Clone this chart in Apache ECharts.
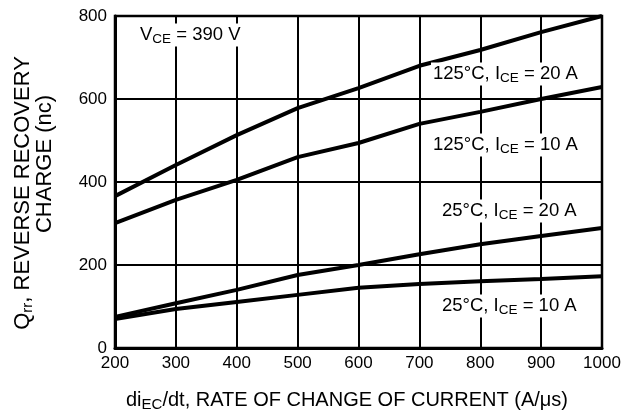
<!DOCTYPE html>
<html><head><meta charset="utf-8">
<script src="https://cdn.jsdelivr.net/npm/echarts@6/dist/echarts.min.js"></script>
<style>html,body{margin:0;padding:0;background:#fff}#c{width:635px;height:415px}</style>
</head><body><div id="c"></div>
<script>
const xValues = [200, 300, 400, 500, 600, 700, 800, 900, 1000];
const q125_20 = [366, 441, 513, 578, 626, 680, 718, 761, 800];
const q125_10 = [301, 357, 405, 460, 494, 540, 569, 600, 629];
const q25_20 = [75, 108, 140, 176, 200, 226, 250, 270, 289];
const q25_10 = [70, 94, 111, 128, 145, 154, 161, 166, 173];
const xTicks = [200, 300, 400, 500, 600, 700, 800, 900, 1000];
const yTicks = [0, 200, 400, 600, 800];

const FONT = 'Liberation Sans, Arial, sans-serif';
const pairs = a => xValues.map((x, i) => [x, a[i]]);
const lineSeries = (name, arr) => ({
  name, type: 'line', data: pairs(arr), showSymbol: false, symbol: 'none',
  lineStyle: { color: '#000', width: 4 }, z: 5, animation: false
});
const mkRich = (n, s, pad) => ({
  n: { fontSize: n, fontFamily: FONT, color: '#000' },
  s: { fontSize: s, fontFamily: FONT, color: '#000', padding: [pad, 0, 0, 0] }
});
const label = (x, y, parts) => ({
  type: 'text', x, y, z: 10,
  style: {
    text: parts, rich: mkRich(18.5, 13.5, 9), align: 'left', verticalAlign: 'middle',
    backgroundColor: '#fff', padding: [0, 2, 0, 2]
  }
});

const chart = echarts.init(document.getElementById('c'), null, { renderer: 'canvas' });
chart.setOption({
  animation: false,
  backgroundColor: '#fff',
  grid: { left: 115, right: 33, top: 16, bottom: 67, show: true, borderColor: '#000', borderWidth: 2.5 },
  xAxis: {
    type: 'value', min: 200, max: 1000, interval: 100,
    axisLine: { show: true, lineStyle: { color: '#000', width: 3 } },
    axisTick: { show: false },
    splitLine: { show: true, lineStyle: { color: '#000', width: 2 } },
    axisLabel: { color: '#000', fontSize: 17, fontFamily: FONT, margin: 7,
      formatter: v => xTicks.includes(v) ? String(v) : '' }
  },
  yAxis: {
    type: 'value', min: 0, max: 800, interval: 200,
    axisLine: { show: true, lineStyle: { color: '#000', width: 3 } },
    axisTick: { show: false },
    splitLine: { show: true, lineStyle: { color: '#000', width: 2 } },
    axisLabel: { color: '#000', fontSize: 17, fontFamily: FONT, margin: 8,
      formatter: v => yTicks.includes(v) ? String(v) : '' }
  },
  series: [
    lineSeries('125C 20A', q125_20),
    lineSeries('125C 10A', q125_10),
    lineSeries('25C 20A', q25_20),
    lineSeries('25C 10A', q25_10)
  ],
  graphic: [
    label(138, 35, '{n|V}{s|CE}{n| = 390 V}'),
    label(431, 74, '{n|125°C, I}{s|CE}{n| = 20 A}'),
    label(431, 145, '{n|125°C, I}{s|CE}{n| = 10 A}'),
    label(440, 211, '{n|25°C, I}{s|CE}{n| = 20 A}'),
    label(440, 306, '{n|25°C, I}{s|CE}{n| = 10 A}'),
    {
      type: 'text', x: 347, y: 400, z: 10,
      style: { text: '{n|di}{s|EC}{n|/dt, RATE OF CHANGE OF CURRENT (A/μs)}', rich: mkRich(20, 15, 10), align: 'center', verticalAlign: 'middle' }
    },
    {
      type: 'text', x: 23, y: 193, z: 10, rotation: Math.PI / 2,
      style: { text: '{n|Q}{s|rr}{n|, REVERSE RECOVERY}', rich: mkRich(22, 15, 10), align: 'center', verticalAlign: 'middle' }
    },
    {
      type: 'text', x: 45, y: 164, z: 10, rotation: Math.PI / 2,
      style: { text: '{n|CHARGE (nc)}', rich: mkRich(22, 15, 10), align: 'center', verticalAlign: 'middle' }
    }
  ]
});
</script></body></html>
